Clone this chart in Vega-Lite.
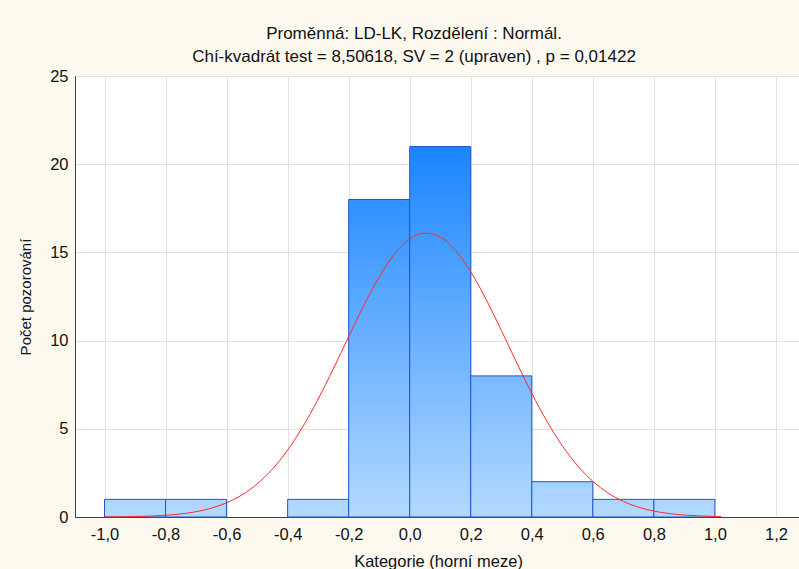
{
  "$schema": "https://vega.github.io/schema/vega-lite/v6.json",
  "width": 726,
  "height": 441,
  "autosize": {"type": "none"},
  "padding": {"left": 75, "top": 76, "right": 0, "bottom": 52},
  "background": "#fdf9ef",
  "title": {
    "text": ["Proměnná: LD-LK, Rozdělení : Normál.", "Chí-kvadrát test = 8,50618, SV = 2 (upraven) , p = 0,01422"],
    "font": "Liberation Sans",
    "fontSize": 17,
    "fontWeight": "normal",
    "color": "#111111",
    "lineHeight": 23,
    "anchor": "middle",
    "frame": "group",
    "dx": -24,
    "offset": 2
  },
  "config": {
    "locale": {"number": {"decimal": ",", "thousands": " ", "grouping": [3], "currency": ["", " Kč"], "minus": "-"}},
    "view": {"stroke": "#404040", "strokeWidth": 1, "fill": "#ffffff"},
    "axis": {
      "labelFont": "Liberation Sans",
      "titleFont": "Liberation Sans",
      "labelFontSize": 16.5,
      "titleFontSize": 16.5,
      "titleFontWeight": "normal",
      "labelColor": "#111111",
      "titleColor": "#111111",
      "domainColor": "#404040",
      "gridColor": "#e2e2e2",
      "gridWidth": 1,
      "tickSize": 0
    }
  },
  "datasets": {
    "bins": [
      {"lo": -1.0, "hi": -0.8, "count": 1},
      {"lo": -0.8, "hi": -0.6, "count": 1},
      {"lo": -0.4, "hi": -0.2, "count": 1},
      {"lo": -0.2, "hi": 0.0, "count": 18},
      {"lo": 0.0, "hi": 0.2, "count": 21},
      {"lo": 0.2, "hi": 0.4, "count": 8},
      {"lo": 0.4, "hi": 0.6, "count": 2},
      {"lo": 0.6, "hi": 0.8, "count": 1},
      {"lo": 0.8, "hi": 1.0, "count": 1}
    ],
    "curve": [
      {"x": -1.00, "y": 0.007}, {"x": -0.95, "y": 0.014}, {"x": -0.90, "y": 0.028}, {"x": -0.85, "y": 0.053},
      {"x": -0.80, "y": 0.098}, {"x": -0.75, "y": 0.175}, {"x": -0.70, "y": 0.301}, {"x": -0.65, "y": 0.501},
      {"x": -0.60, "y": 0.805}, {"x": -0.55, "y": 1.250}, {"x": -0.50, "y": 1.874}, {"x": -0.45, "y": 2.714},
      {"x": -0.40, "y": 3.795}, {"x": -0.35, "y": 5.123}, {"x": -0.30, "y": 6.680}, {"x": -0.25, "y": 8.411},
      {"x": -0.20, "y": 10.225}, {"x": -0.15, "y": 12.006}, {"x": -0.10, "y": 13.614}, {"x": -0.05, "y": 14.907},
      {"x": 0.00, "y": 15.764}, {"x": 0.05, "y": 16.097}, {"x": 0.10, "y": 15.874}, {"x": 0.15, "y": 15.117},
      {"x": 0.20, "y": 13.902}, {"x": 0.25, "y": 12.345}, {"x": 0.30, "y": 10.589}, {"x": 0.35, "y": 8.770},
      {"x": 0.40, "y": 7.013}, {"x": 0.45, "y": 5.416}, {"x": 0.50, "y": 4.039}, {"x": 0.55, "y": 2.909},
      {"x": 0.60, "y": 2.024}, {"x": 0.65, "y": 1.359}, {"x": 0.70, "y": 0.881}, {"x": 0.75, "y": 0.552},
      {"x": 0.80, "y": 0.334}, {"x": 0.85, "y": 0.195}, {"x": 0.90, "y": 0.110}, {"x": 0.95, "y": 0.060},
      {"x": 1.00, "y": 0.032}, {"x": 1.02, "y": 0.024}
    ]
  },
  "layer": [
    {
      "data": {"name": "bins"},
      "mark": {"type": "bar", "stroke": "#1f55d2", "strokeWidth": 1},
      "encoding": {
        "x": {
          "field": "lo", "type": "quantitative",
          "scale": {"domain": [-1.0967, 1.2821], "nice": false, "zero": false},
          "axis": {"values": [-1.0, -0.8, -0.6, -0.4, -0.2, 0.0, 0.2, 0.4, 0.6, 0.8, 1.0, 1.2], "format": ".1f", "title": "Kategorie (horní meze)", "labelPadding": 9, "titlePadding": 11}
        },
        "x2": {"field": "hi"},
        "y": {
          "field": "count", "type": "quantitative",
          "scale": {"domain": [0, 25], "nice": false},
          "axis": {"values": [0, 5, 10, 15, 20, 25], "format": "d", "title": "Počet pozorování", "labelPadding": 7, "titlePadding": 16, "titleFontSize": 15}
        },
        "y2": {"datum": 0},
        "fill": {
          "value": {"gradient": "linear", "x1": 0, "y1": 0, "x2": 0, "y2": 1, "stops": [{"offset": 0, "color": "#acd5ff"}, {"offset": 1, "color": "#b3d9ff"}]},
          "condition": [
            {"test": "datum.count == 21", "value": {"gradient": "linear", "x1": 0, "y1": 0, "x2": 0, "y2": 1, "stops": [{"offset": 0, "color": "#1a85ff"}, {"offset": 1, "color": "#b3d9ff"}]}},
            {"test": "datum.count == 18", "value": {"gradient": "linear", "x1": 0, "y1": 0, "x2": 0, "y2": 1, "stops": [{"offset": 0, "color": "#3091ff"}, {"offset": 1, "color": "#b3d9ff"}]}},
            {"test": "datum.count == 8", "value": {"gradient": "linear", "x1": 0, "y1": 0, "x2": 0, "y2": 1, "stops": [{"offset": 0, "color": "#79b9ff"}, {"offset": 1, "color": "#b3d9ff"}]}},
            {"test": "datum.count == 2", "value": {"gradient": "linear", "x1": 0, "y1": 0, "x2": 0, "y2": 1, "stops": [{"offset": 0, "color": "#a4d1ff"}, {"offset": 1, "color": "#b3d9ff"}]}}
          ]
        }
      }
    },
    {
      "data": {"name": "curve"},
      "mark": {"type": "line", "color": "#ff2a2a", "strokeWidth": 1, "interpolate": "monotone"},
      "encoding": {
        "x": {"field": "x", "type": "quantitative"},
        "y": {"field": "y", "type": "quantitative"}
      }
    }
  ]
}
